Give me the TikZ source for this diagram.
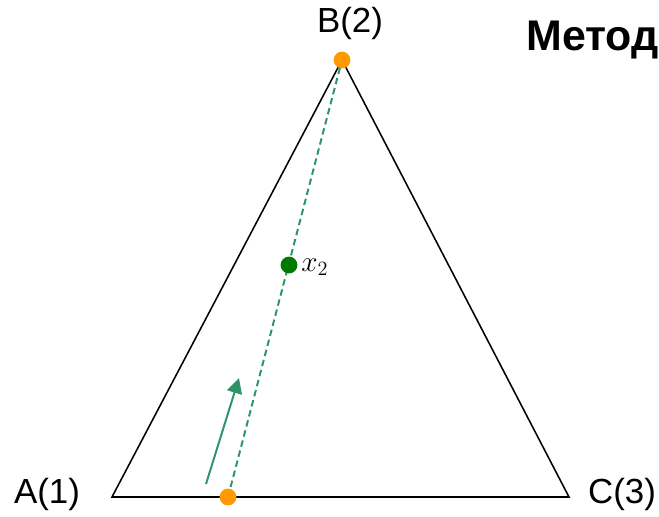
\documentclass[tikz,border=0pt]{standalone}
\usepackage{fontspec}
\usetikzlibrary{arrows.meta}
\newfontfamily\labelfont{Liberation Sans}
\definecolor{dotorange}{HTML}{FF9900}
\definecolor{dotgreen}{HTML}{007A00}
\definecolor{pathgreen}{HTML}{2E9467}
\begin{document}
\begin{tikzpicture}[x=0.025cm,y=-0.025cm,
  vertexlabel/.style={font=\labelfont\fontsize{24.8}{28}\selectfont,inner sep=0pt},
  orangedot/.style={circle,fill=dotorange,inner sep=0pt,minimum size=0.42cm},
  greendot/.style={circle,fill=dotgreen,inner sep=0pt,minimum size=0.42cm}]
\useasboundingbox (0,0) rectangle (659,516);
% vertices of the triangle
\coordinate (A) at (112,497);
\coordinate (B) at (342,60);
\coordinate (C) at (569,497);
\draw[line width=1.1pt] (A) -- (B) -- (C) -- cycle;
% path from the base point to B
\coordinate (P) at (228,497);
\draw[pathgreen,line width=1.4pt,dash pattern=on 4.6pt off 2.8pt] (P) -- (B);
\node[orangedot] (dotB) at (B) {};
\node[orangedot] (dotP) at (P) {};
\node[greendot] (dotX) at (289,265) {};
\node[anchor=west,inner sep=0pt,font=\fontsize{20}{24}\selectfont] (xlab) at (301,267) {$x_2$};
% direction arrow
\coordinate (arrS) at (206,484);
\coordinate (arrE) at (239,378);
\draw[pathgreen,line width=1.4pt,-{Triangle[length=0.38cm,width=0.38cm]}] (arrS) -- (arrE);
% labels
\node[vertexlabel] (labA) at (47,494) {A(1)};
\node[vertexlabel] (labB) at (350,23) {B(2)};
\node[vertexlabel] (labC) at (622,494) {C(3)};
\node[anchor=west,inner sep=0pt,font=\labelfont\bfseries\fontsize{30.5}{34}\selectfont] (title) at (526,40) {Метод};
\end{tikzpicture}
\end{document}
